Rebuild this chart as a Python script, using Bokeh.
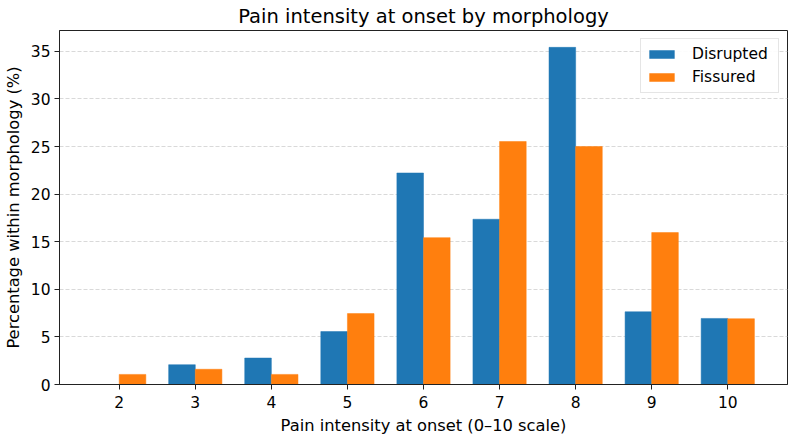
from bokeh.plotting import figure
from bokeh.models import ColumnDataSource, FixedTicker, Range1d, Legend, LegendItem
from bokeh.embed import file_html
from bokeh.resources import INLINE

# Pain score categories and percentage of cases within each morphology
pain_scores = [2, 3, 4, 5, 6, 7, 8, 9, 10]
disrupted_pct = [0.0, 2.08, 2.78, 5.56, 22.22, 17.36, 35.42, 7.64, 6.94]
fissured_pct = [1.06, 1.60, 1.06, 7.45, 15.43, 25.53, 25.00, 15.96, 6.91]
series_names = ["Disrupted", "Fissured"]
series_colors = ["#1f77b4", "#ff7f0e"]
y_ticks = [0, 5, 10, 15, 20, 25, 30, 35]

BAR_W = 0.35
FONT = "DejaVu Sans"
TICK_FS = "15.5px"
LABEL_FS = "16.3px"

p = figure(
    width=790, height=437,
    output_backend="svg", toolbar_location=None,
    x_range=Range1d(1.215, 10.785), y_range=Range1d(0, 37.19),
    min_border_left=58, min_border_right=3, min_border_bottom=53, min_border_top=29,
    background_fill_color="white", border_fill_color="white",
)

src = ColumnDataSource(dict(
    x_d=[s - BAR_W / 2 for s in pain_scores],
    x_f=[s + BAR_W / 2 for s in pain_scores],
    d=disrupted_pct, f=fissured_pct,
))
r_d = p.vbar(x="x_d", top="d", width=BAR_W, source=src,
             fill_color=series_colors[0], line_color=series_colors[0], line_width=0.5)
r_f = p.vbar(x="x_f", top="f", width=BAR_W, source=src,
             fill_color=series_colors[1], line_color=series_colors[1], line_width=0.5)

# Title
p.title.text = "Pain intensity at onset by morphology"
p.title.align = "center"
p.title.text_font = FONT
p.title.text_font_size = "19.5px"
p.title.text_font_style = "normal"
p.title.text_color = "black"
p.title.text_line_height = 1.0
p.title.standoff = 5

# Axes
p.xaxis.ticker = FixedTicker(ticks=pain_scores)
p.yaxis.ticker = FixedTicker(ticks=y_ticks)
p.xaxis.axis_label = "Pain intensity at onset (0\u201310 scale)"
p.yaxis.axis_label = "Percentage within morphology (%)"
for ax in (p.xaxis[0], p.yaxis[0]):
    ax.axis_label_text_font = FONT
    ax.axis_label_text_font_size = LABEL_FS
    ax.axis_label_text_font_style = "normal"
    ax.axis_label_text_color = "black"
    ax.major_label_text_font = FONT
    ax.major_label_text_font_size = TICK_FS
    ax.major_label_text_color = "black"
    ax.axis_line_color = "#222222"
    ax.axis_line_width = 1
    ax.major_tick_line_color = "#222222"
    ax.major_tick_out = 5
    ax.major_tick_in = 0
    ax.minor_tick_line_color = None
p.xaxis.axis_label_standoff = 5
p.yaxis.axis_label_standoff = 5
p.xaxis.major_label_standoff = 6
p.yaxis.major_label_standoff = 4

# Grid: dashed horizontal lines only
p.xgrid.grid_line_color = None
p.ygrid.grid_line_color = "#d9d9d9"
p.ygrid.grid_line_dash = "4 2"
p.ygrid.grid_line_width = 1

p.outline_line_color = "#222222"
p.outline_line_width = 1

legend = Legend(items=[
    LegendItem(label=series_names[0], renderers=[r_d]),
    LegendItem(label=series_names[1], renderers=[r_f]),
], location="top_right")
legend.label_text_font = FONT
legend.label_text_font_size = TICK_FS
legend.label_text_color = "black"
legend.glyph_width = 31
legend.glyph_height = 10
legend.label_height = 20
legend.label_width = 81
legend.label_standoff = 15
legend.spacing = 3
legend.padding = 5
legend.margin = 8
legend.border_line_color = "#cccccc"
legend.border_line_width = 1
legend.background_fill_alpha = 0.9
p.add_layout(legend)

open("out.html", "w").write(file_html(p, INLINE))
